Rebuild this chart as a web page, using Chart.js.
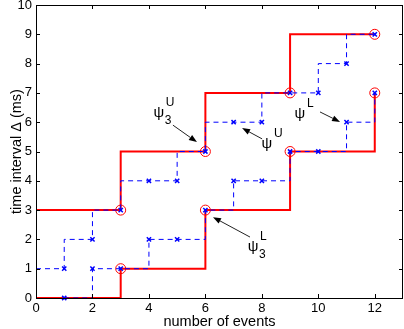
<!DOCTYPE html>
<html>
<head>
<meta charset="utf-8">
<script src="https://cdn.jsdelivr.net/npm/chart.js@4.4.0/dist/chart.umd.min.js"></script>
<style>
  html, body { margin: 0; padding: 0; background: #fff; }
  #wrap { width: 404px; height: 329px; }
</style>
</head>
<body>
<div id="wrap"><canvas id="myChart" width="404" height="329"></canvas></div>
<script>
// step paths (blue, dashed)
var upperStepX = [0, 1, 2, 3, 4, 5, 6, 7, 8, 9, 10, 11, 12];
var upperStepY = [1, 1, 2, 3, 4, 4, 5, 6, 6, 7, 7, 8, 9];
var lowerStepX = [1, 2, 3, 4, 5, 6, 7, 8, 9, 10, 11, 12];
var lowerStepY = [0, 1, 1, 2, 2, 3, 4, 4, 5, 5, 6, 7];

// bounds (red)
var boundX = [0, 3, 6, 9, 12];
var upperBoundY = [3, 3, 5, 7, 9];
var lowerBoundY = [0, 1, 3, 5, 7];

var xTicks = [0, 2, 4, 6, 8, 10, 12];
var yTicks = [0, 1, 2, 3, 4, 5, 6, 7, 8, 9, 10];

// annotations: psi label with super/subscript and an arrow
var noteSup = ['U', 'U', 'L', 'L'];
var noteSub = ['3', '', '', '3'];
var noteAt = [[4.35, 6.31], [8.18, 5.26], [9.35, 6.28], [7.69, 1.74]];
var arrowFrom = [[4.85, 5.90], [8.01, 5.43], [10.06, 6.35], [7.58, 2.08]];
var arrowTo = [[5.70, 5.32], [7.30, 5.80], [10.77, 6.01], [6.27, 2.76]];

function pts(xs, ys) {
    return xs.map(function (x, i) { return { x: x, y: ys[i] }; });
}

var FONT = '"Liberation Sans", Arial, Helvetica, sans-serif';

var boxPlugin = {
    id: 'box',
    afterDatasetsDraw: function (chart) {
        var ctx = chart.ctx;
        var a = chart.chartArea;
        var xs = chart.scales.x, ys = chart.scales.y;
        ctx.save();
        ctx.strokeStyle = '#000';
        ctx.lineWidth = 1;
        ctx.strokeRect(Math.round(a.left) + 0.5, Math.round(a.top) + 0.5,
            Math.round(a.right - a.left) - 1, Math.round(a.bottom - a.top));
        // inward ticks
        ctx.beginPath();
        xTicks.forEach(function (v) {
            var px = Math.round(xs.getPixelForValue(v)) + 0.5;
            ctx.moveTo(px, a.bottom); ctx.lineTo(px, a.bottom - 4);
            ctx.moveTo(px, a.top); ctx.lineTo(px, a.top + 4);
        });
        yTicks.forEach(function (v) {
            var py = Math.round(ys.getPixelForValue(v)) + 0.5;
            ctx.moveTo(a.left, py); ctx.lineTo(a.left + 4, py);
            ctx.moveTo(a.right, py); ctx.lineTo(a.right - 4, py);
        });
        ctx.stroke();

        // annotations
        ctx.fillStyle = '#000';
        ctx.strokeStyle = '#222';
        for (var i = 0; i < noteAt.length; i++) {
            var x0 = xs.getPixelForValue(arrowFrom[i][0]), y0 = ys.getPixelForValue(arrowFrom[i][1]);
            var x1 = xs.getPixelForValue(arrowTo[i][0]), y1 = ys.getPixelForValue(arrowTo[i][1]);
            var ang = Math.atan2(y1 - y0, x1 - x0);
            var hl = 8, hw = 3;
            var bx = x1 - hl * Math.cos(ang), by = y1 - hl * Math.sin(ang);
            ctx.beginPath();
            ctx.moveTo(x0, y0); ctx.lineTo(bx, by);
            ctx.stroke();
            ctx.beginPath();
            ctx.moveTo(x1, y1);
            ctx.lineTo(bx + hw * Math.sin(ang), by - hw * Math.cos(ang));
            ctx.lineTo(bx - hw * Math.sin(ang), by + hw * Math.cos(ang));
            ctx.closePath();
            ctx.fill();

            var tx = xs.getPixelForValue(noteAt[i][0]), ty = ys.getPixelForValue(noteAt[i][1]);
            ctx.textAlign = 'center';
            ctx.textBaseline = 'middle';
            ctx.font = '15px ' + FONT;
            ctx.fillText('\u03c8', tx, ty);
            ctx.textAlign = 'left';
            ctx.font = '12px ' + FONT;
            ctx.fillText(noteSup[i], tx + 7, ty - 10);
            if (noteSub[i]) ctx.fillText(noteSub[i], tx + 6, ty + 8);
        }
        ctx.restore();
    }
};

var blue = '#0000ff', red = '#ff0000';

var ctx = document.getElementById('myChart').getContext('2d');
var myChart = new Chart(ctx, {
    type: 'line',
    data: {
        datasets: [
            {
                data: pts(upperStepX, upperStepY),
                stepped: 'after',
                borderColor: blue, borderWidth: 1, borderDash: [5, 4],
                pointStyle: 'crossRot', pointBorderColor: blue, pointBorderWidth: 1.5,
                pointRadius: upperStepX.map(function (x) { return x === 0 ? 0 : 3; }),
                fill: false
            },
            {
                data: pts(lowerStepX, lowerStepY),
                stepped: 'before',
                borderColor: blue, borderWidth: 1, borderDash: [5, 4],
                pointStyle: 'crossRot', pointBorderColor: blue, pointBorderWidth: 1.5,
                pointRadius: 3,
                fill: false
            },
            {
                data: pts(boundX, upperBoundY),
                stepped: 'after',
                borderColor: red, borderWidth: 2,
                pointStyle: 'circle', pointBorderColor: red, pointBackgroundColor: 'rgba(0,0,0,0)',
                pointBorderWidth: 1,
                pointRadius: boundX.map(function (x) { return x === 0 ? 0 : 5; }),
                fill: false
            },
            {
                data: pts(boundX, lowerBoundY),
                stepped: 'before',
                borderColor: red, borderWidth: 2,
                pointStyle: 'circle', pointBorderColor: red, pointBackgroundColor: 'rgba(0,0,0,0)',
                pointBorderWidth: 1,
                pointRadius: boundX.map(function (x) { return x === 0 ? 0 : 5; }),
                fill: false
            }
        ]
    },
    options: {
        responsive: false,
        animation: false,
        clip: false,
        layout: { autoPadding: false, padding: { top: 5, right: 1, left: 0, bottom: 0 } },
        plugins: { legend: { display: false }, tooltip: { enabled: false } },
        elements: { line: { tension: 0 } },
        scales: {
            x: {
                type: 'linear', min: 0, max: 13,
                afterBuildTicks: function (s) { s.ticks = xTicks.map(function (v) { return { value: v }; }); },
                afterFit: function (s) { s.height = 31; s.paddingLeft = 0; s.paddingRight = 0; },
                grid: { display: false, drawTicks: false },
                border: { display: false },
                ticks: { color: '#000', padding: 3, maxRotation: 0, font: { family: FONT, size: 13 } },
                title: { display: true, text: 'number of events', color: '#000', padding: { top: 0, bottom: 0 }, font: { family: FONT, size: 14.5, lineHeight: 1.0 } }
            },
            y: {
                type: 'linear', min: 0, max: 10,
                afterBuildTicks: function (s) { s.ticks = yTicks.map(function (v) { return { value: v }; }); },
                afterFit: function (s) { s.width = 36; s.paddingTop = 0; s.paddingBottom = 0; },
                grid: { display: false, drawTicks: false },
                border: { display: false },
                ticks: { color: '#000', padding: 4, font: { family: FONT, size: 13 } },
                title: { display: true, text: 'time interval \u0394 (ms)', color: '#000', padding: { top: 8, bottom: 0 }, font: { family: FONT, size: 14.5 } }
            }
        }
    },
    plugins: [boxPlugin]
});
</script>
</body>
</html>
